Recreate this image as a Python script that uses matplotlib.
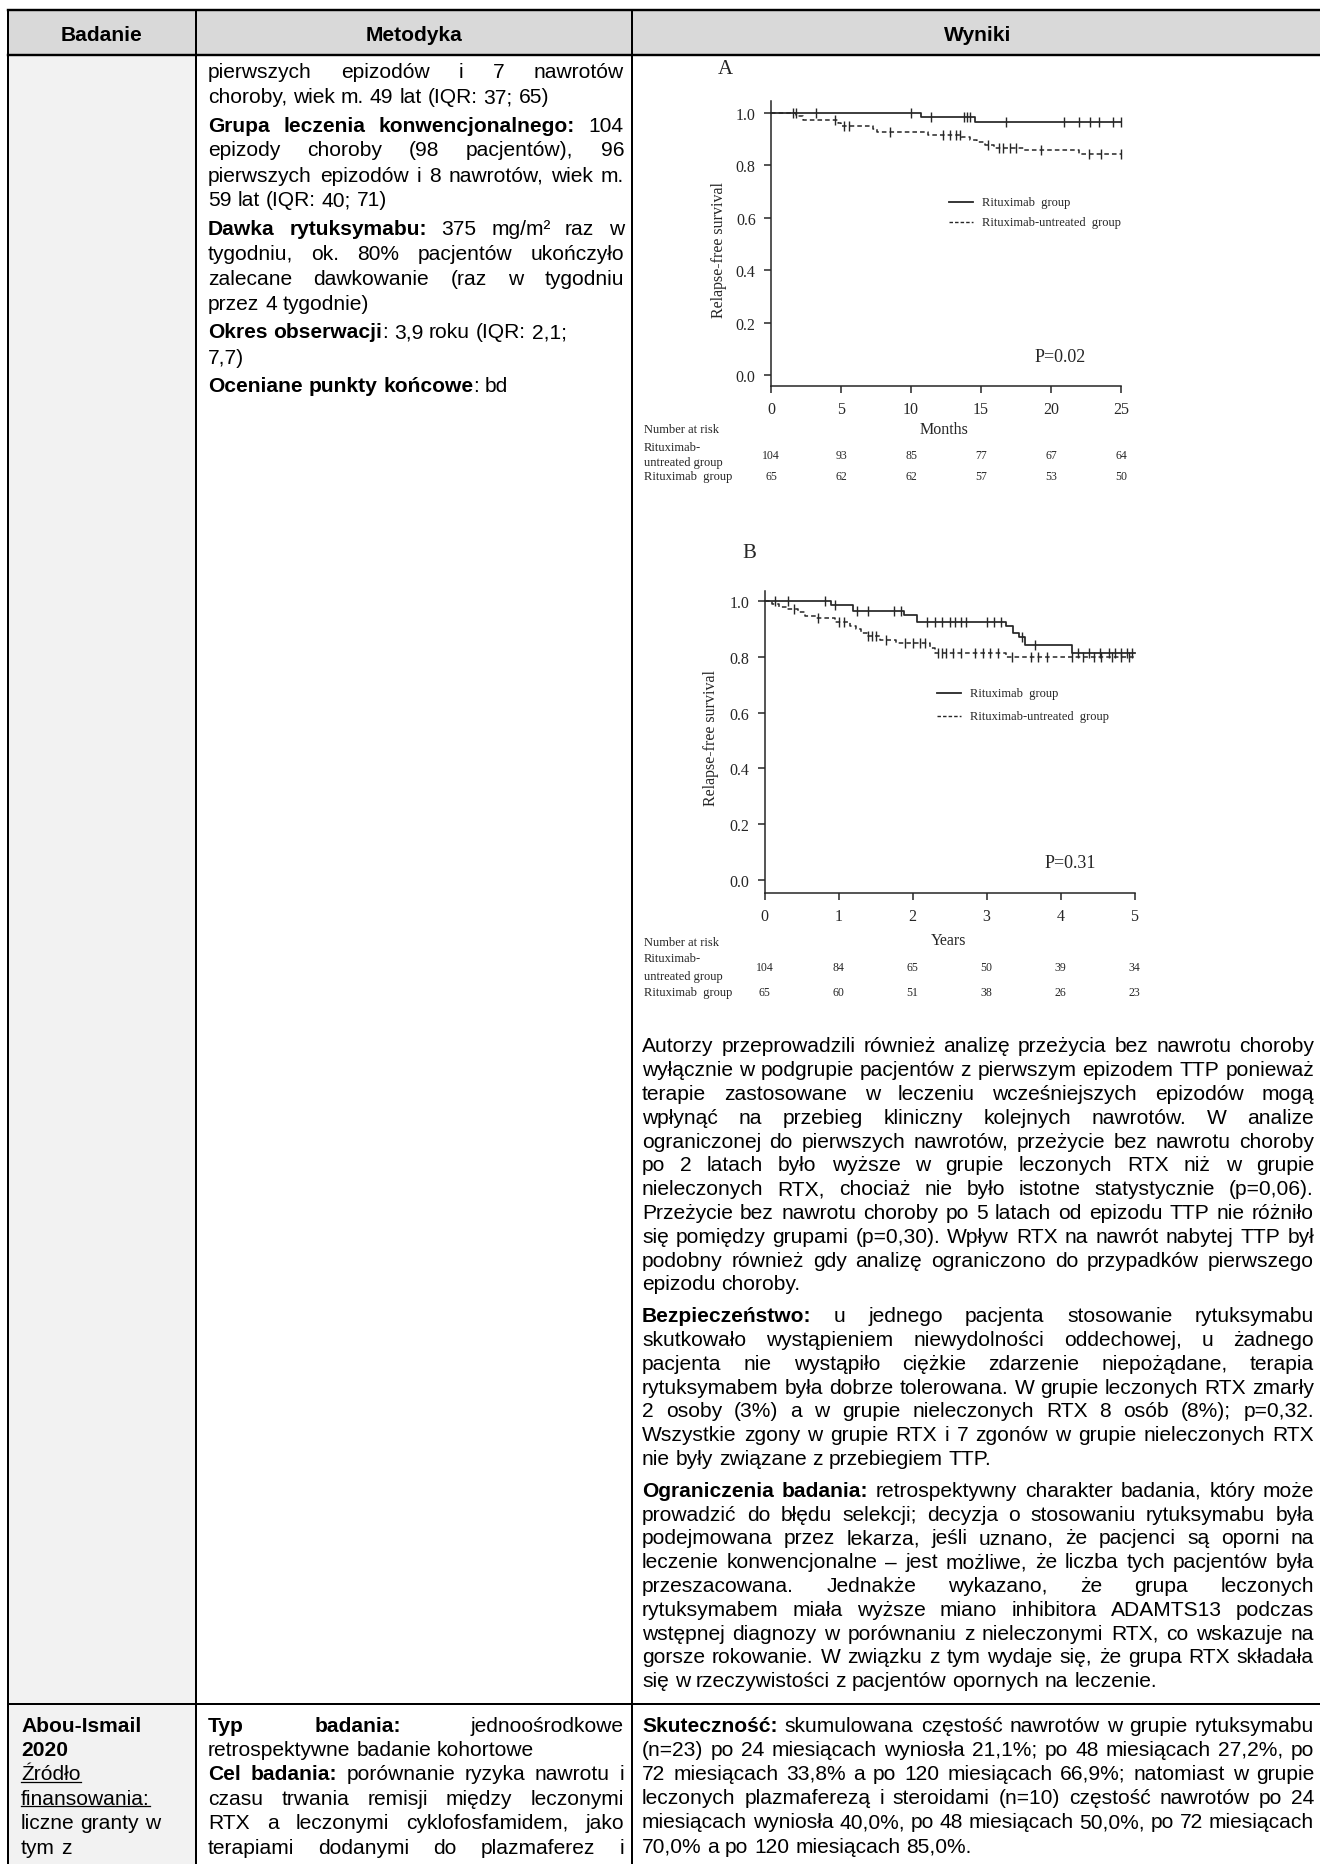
import numpy as np
import matplotlib.pyplot as plt
from matplotlib.font_manager import FontProperties
from matplotlib.transforms import blended_transform_factory

# ---------------- Kaplan-Meier A (months) ----------------
a_ticks = [0, 5, 10, 15, 20, 25]
a_rtx_t = [0, 10.7, 14.6]
a_rtx_s = [1.0, 0.983, 0.967]
a_rtx_cens = [1.6, 1.75, 3.2, 10.0, 11.4, 13.8, 14.0, 14.2, 16.8, 20.9, 22.0, 22.8, 23.4, 24.4, 25.0]
a_unt_t = [0, 1.8, 2.3, 4.8, 5.0, 7.3, 7.6, 11.2, 13.6, 14.2, 14.7, 15.3, 15.9, 18.1, 22.0]
a_unt_s = [1.0, 0.99, 0.975, 0.962, 0.95, 0.94, 0.928, 0.915, 0.908, 0.898, 0.888, 0.878, 0.868, 0.858, 0.843]
a_unt_cens = [4.6, 5.2, 5.6, 8.5, 12.3, 12.8, 13.2, 13.5, 15.5, 16.3, 16.6, 17.1, 17.5, 19.3, 22.7, 23.6, 25.0]
a_risk_unt = [104, 93, 85, 77, 67, 64]
a_risk_rtx = [65, 62, 62, 57, 53, 50]

# ---------------- Kaplan-Meier B (years) ----------------
b_ticks = [0, 1, 2, 3, 4, 5]
b_rtx_t = [0, 0.9, 1.19, 1.89, 2.06, 3.27, 3.36, 3.44, 3.52, 4.16]
b_rtx_s = [1.0, 0.987, 0.965, 0.949, 0.925, 0.91, 0.887, 0.871, 0.843, 0.814]
b_rtx_cens = [0.14, 0.32, 0.82, 0.95, 1.25, 1.4, 1.75, 1.84, 2.2, 2.3, 2.4, 2.5, 2.58, 2.66, 2.72,
              3.0, 3.1, 3.2, 3.48, 3.65, 4.24, 4.38, 4.54, 4.65, 4.73, 4.82, 4.9, 4.96]
b_unt_t = [0, 0.1, 0.2, 0.3, 0.45, 0.55, 0.7, 0.95, 1.15, 1.23, 1.3, 1.38, 1.56, 1.78, 2.24, 2.31, 3.27]
b_unt_s = [1.0, 0.99, 0.98, 0.97, 0.96, 0.948, 0.938, 0.925, 0.912, 0.898, 0.887, 0.875, 0.862, 0.849,
           0.831, 0.815, 0.799]
b_unt_cens = [0.4, 0.72, 1.0, 1.08, 1.4, 1.45, 1.5, 1.64, 1.9, 2.0, 2.1, 2.17, 2.35, 2.4, 2.45, 2.55, 2.65,
              2.85, 2.95, 3.05, 3.15, 3.35, 3.6, 3.7, 3.82, 4.16, 4.3, 4.45, 4.55, 4.7, 4.82, 4.93]
b_risk_unt = [104, 84, 65, 50, 39, 34]
b_risk_rtx = [65, 60, 51, 38, 26, 23]

# ---------------- table text ----------------
headers = ["Badanie", "Metodyka", "Wyniki"]

met_row1 = [
    (["pierwszych epizodów i 7 nawrotów",
      "choroby, wiek m. 49 lat (IQR: 37; 65)"], True, False),
    (["*Grupa leczenia konwencjonalnego:* 104",
      "epizody choroby (98 pacjentów), 96",
      "pierwszych epizodów i 8 nawrotów, wiek m.",
      "59 lat (IQR: 40; 71)"], True, False),
    (["*Dawka rytuksymabu:* 375 mg/m² raz w",
      "tygodniu, ok. 80% pacjentów ukończyło",
      "zalecane dawkowanie (raz w tygodniu",
      "przez 4 tygodnie)"], True, False),
    (["*Okres obserwacji*: 3,9 roku (IQR: 2,1;", "7,7)"], False, False),
    (["*Oceniane punkty końcowe*: bd"], False, False),
]

wyn_row1 = [
    (["Autorzy przeprowadzili również analizę przeżycia bez nawrotu choroby",
      "wyłącznie w podgrupie pacjentów z pierwszym epizodem TTP ponieważ",
      "terapie zastosowane w leczeniu wcześniejszych epizodów mogą",
      "wpłynąć na przebieg kliniczny kolejnych nawrotów. W analize",
      "ograniczonej do pierwszych nawrotów, przeżycie bez nawrotu choroby",
      "po 2 latach było wyższe w grupie leczonych RTX niż w grupie",
      "nieleczonych RTX, chociaż nie było istotne statystycznie (p=0,06).",
      "Przeżycie bez nawrotu choroby po 5 latach od epizodu TTP nie różniło",
      "się pomiędzy grupami (p=0,30). Wpływ RTX na nawrót nabytej TTP był",
      "podobny również gdy analizę ograniczono do przypadków pierwszego",
      "epizodu choroby."], True, False),
    (["*Bezpieczeństwo:* u jednego pacjenta stosowanie rytuksymabu",
      "skutkowało wystąpieniem niewydolności oddechowej, u żadnego",
      "pacjenta nie wystąpiło ciężkie zdarzenie niepożądane, terapia",
      "rytuksymabem była dobrze tolerowana. W grupie leczonych RTX zmarły",
      "2 osoby (3%) a w grupie nieleczonych RTX 8 osób (8%); p=0,32.",
      "Wszystkie zgony w grupie RTX i 7 zgonów w grupie nieleczonych RTX",
      "nie były związane z przebiegiem TTP."], True, False),
    (["*Ograniczenia badania:* retrospektywny charakter badania, który może",
      "prowadzić do błędu selekcji; decyzja o stosowaniu rytuksymabu była",
      "podejmowana przez lekarza, jeśli uznano, że pacjenci są oporni na",
      "leczenie konwencjonalne – jest możliwe, że liczba tych pacjentów była",
      "przeszacowana. Jednakże wykazano, że grupa leczonych",
      "rytuksymabem miała wyższe miano inhibitora ADAMTS13 podczas",
      "wstępnej diagnozy w porównaniu z nieleczonymi RTX, co wskazuje na",
      "gorsze rokowanie. W związku z tym wydaje się, że grupa RTX składała",
      "się w rzeczywistości z pacjentów opornych na leczenie."], True, False),
]

bad_row2 = [(["*Abou-Ismail*", "*2020*", "_Źródło_", "_finansowania:_", "liczne granty w", "tym z"], False, False)]

met_row2 = [
    (["*Typ badania:* jednoośrodkowe", "retrospektywne badanie kohortowe"], True, False),
    (["*Cel badania:* porównanie ryzyka nawrotu i",
      "czasu trwania remisji między leczonymi",
      "RTX a leczonymi cyklofosfamidem, jako",
      "terapiami dodanymi do plazmaferez i"], True, True),
]

wyn_row2 = [
    (["*Skuteczność:* skumulowana częstość nawrotów w grupie rytuksymabu",
      "(n=23) po 24 miesiącach wyniosła 21,1%; po 48 miesiącach 27,2%, po",
      "72 miesiącach 33,8% a po 120 miesiącach 66,9%; natomiast w grupie",
      "leczonych plazmaferezą i steroidami (n=10) częstość nawrotów po 24",
      "miesiącach wyniosła 40,0%, po 48 miesiącach 50,0%, po 72 miesiącach",
      "70,0% a po 120 miesiącach 85,0%."], True, False),
]

# ---------------- page setup ----------------
W, H = 1320, 1865
fig = plt.figure(figsize=(W / 100, H / 100), dpi=100)
page = fig.add_axes([0, 0, 1, 1])
page.set_xlim(0, W)
page.set_ylim(H, 0)
page.axis('off')
renderer = fig.canvas.get_renderer()

SANS = 'Liberation Sans'
SERIF = 'Liberation Serif'
FS = 15.1
KM_C = '#262626'

X_L, X_B, X_M, X_R = 8, 196, 632, 1326
Y_T, Y_HDR, Y_ROW2 = 11, 56, 1705


def fprop(bold):
    return FontProperties(family=SANS, size=FS, weight='bold' if bold else 'normal')


def twidth(s, bold):
    w, h, d = renderer.get_text_width_height_descent(s, fprop(bold), ismath=False)
    return w


def parse(line):
    runs, buf, bold, under = [], '', False, False
    for ch in line:
        if ch in '*_':
            if buf:
                runs.append((buf, bold, under))
            buf = ''
            if ch == '*':
                bold = not bold
            else:
                under = not under
        else:
            buf += ch
    if buf:
        runs.append((buf, bold, under))
    words = [[]]
    for text, b, u in runs:
        parts = text.split(' ')
        for i, p in enumerate(parts):
            if i > 0:
                words.append([])
            if p:
                words[-1].append((p, b, u))
    return [w for w in words if w]


SPACE = twidth('a a', False) - twidth('aa', False)


def draw_line(x0, x1, y, line, justify):
    words = parse(line)
    ws = [sum(twidth(p, b) for p, b, u in w) for w in words]
    gap = SPACE
    if justify and len(words) > 1:
        gap = max((x1 - x0 - sum(ws)) / (len(words) - 1), SPACE * 0.5)
    x = x0
    for w, wd in zip(words, ws):
        for p, b, u in w:
            pw = twidth(p, b)
            page.text(x, y, p, fontproperties=fprop(b), va='baseline', ha='left', color='black')
            if u:
                page.plot([x, x + pw], [y + 2.5, y + 2.5], color='black', lw=0.9)
            x += pw
        x += gap


def draw_paras(x0, x1, y, paras, step, pstep):
    for lines, just, just_last in paras:
        for i, ln in enumerate(lines):
            last = i == len(lines) - 1
            draw_line(x0, x1, y + 6.5, ln, just and (not last or just_last))
            y += step if not last else pstep
    return y


# ---------------- table frame ----------------
page.add_patch(plt.Rectangle((X_L, Y_T), X_R - X_L, Y_HDR - Y_T, facecolor='#d9d9d9', edgecolor='none'))
page.add_patch(plt.Rectangle((X_L, Y_HDR), X_B - X_L, H - Y_HDR, facecolor='#f2f2f2', edgecolor='none'))
lw_px = 2.0 * 0.72
page.plot([X_L, X_R], [Y_T, Y_T], color='black', lw=lw_px * 1.2)
page.plot([X_L, X_R], [Y_HDR, Y_HDR], color='black', lw=lw_px * 1.2)
page.plot([X_L, X_R], [Y_ROW2, Y_ROW2], color='black', lw=lw_px)
for xv in (X_L, X_B, X_M):
    page.plot([xv, xv], [Y_T, H + 5], color='black', lw=lw_px)

hdr_x = [(X_L + X_B) / 2, (X_B + X_M) / 2, 978]
for hx, lab in zip(hdr_x, headers):
    page.text(hx, (Y_T + Y_HDR) / 2, lab, fontproperties=fprop(True), ha='center', va='center_baseline')

# ---------------- table body text ----------------
draw_paras(208, 624, 71.5, met_row1, 25.0, 28.5)
draw_paras(642, 1314, 1046, wyn_row1, 23.8, 31.8)
draw_paras(21, 190, 1725, bad_row2, 24.4, 24.4)
draw_paras(208, 624, 1725, met_row2, 24.4, 24.4)
draw_paras(642, 1314, 1725, wyn_row2, 24.2, 24.2)


# ---------------- Kaplan-Meier panels ----------------
def levels_at(times, surv, cens):
    idx = np.searchsorted(times, cens, side='right') - 1
    return np.asarray(surv)[idx]


def km_panel(px, xmax, ticks, rtx_t, rtx_s, rtx_c, unt_t, unt_s, unt_c, y1, y0):
    left, right, top, bottom = px
    ax = fig.add_axes([left / W, 1 - bottom / H, (right - left) / W, (bottom - top) / H])
    ax.patch.set_alpha(0)
    unit = y0 - y1
    ax.set_xlim(0, xmax)
    ax.set_ylim(-(bottom - y0) / unit, 1 + (y1 - top) / unit)
    ax.step(rtx_t + [xmax], rtx_s + [rtx_s[-1]], where='post', color=KM_C, lw=1.25, clip_on=False)
    ax.step(unt_t + [xmax], unt_s + [unt_s[-1]], where='post', color=KM_C, lw=1.1,
            linestyle=(0, (3, 2)), clip_on=False)
    ax.plot(rtx_c, levels_at(rtx_t, rtx_s, rtx_c), ls='none', marker='|', ms=7, mew=1.0,
            color=KM_C, clip_on=False)
    ax.plot(unt_c, levels_at(unt_t, unt_s, unt_c), ls='none', marker='|', ms=7, mew=1.0,
            color=KM_C, clip_on=False)
    for s in ('top', 'right'):
        ax.spines[s].set_visible(False)
    for s in ('left', 'bottom'):
        ax.spines[s].set_color(KM_C)
        ax.spines[s].set_linewidth(1.1)
    ax.set_xticks(ticks)
    ax.set_xticklabels([str(t) for t in ticks])
    yt = [0.0, 0.2, 0.4, 0.6, 0.8, 1.0]
    ax.set_yticks(yt)
    ax.set_yticklabels(['%.1f' % v for v in yt])
    ax.tick_params(direction='out', length=5, width=1.1, colors=KM_C, labelsize=11.5, pad=6)
    for lbl in ax.get_xticklabels() + ax.get_yticklabels():
        lbl.set_fontfamily(SERIF)
    return ax


def km_text(ax, ticks, letter, lxy, ylab_xy, xlab, xlab_xy, leg_x, leg_y, pval, p_xy,
            risk_y, risk_unt, risk_rtx):
    page.text(lxy[0], lxy[1], letter, family=SERIF, fontsize=15, color=KM_C, ha='left', va='center')
    page.text(ylab_xy[0], ylab_xy[1], 'Relapse-free survival', family=SERIF, fontsize=11.5,
              color=KM_C, rotation=90, ha='center', va='center')
    page.text(xlab_xy[0], xlab_xy[1], xlab, family=SERIF, fontsize=11.5, color=KM_C,
              ha='center', va='center')
    page.plot([leg_x, leg_x + 24], [leg_y[0], leg_y[0]], color=KM_C, lw=1.3)
    page.plot([leg_x, leg_x + 24], [leg_y[1], leg_y[1]], color=KM_C, lw=1.0, linestyle=(0, (2.5, 1.5)))
    page.text(leg_x + 33, leg_y[0], 'Rituximab  group', family=SERIF, fontsize=9, color=KM_C,
              ha='left', va='center')
    page.text(leg_x + 33, leg_y[1], 'Rituximab-untreated  group', family=SERIF, fontsize=9,
              color=KM_C, ha='left', va='center')
    page.text(p_xy[0], p_xy[1], pval, family=SERIF, fontsize=13, color=KM_C, ha='left', va='center')
    ry_hdr, ry_a, ry_b, ry_unt, ry_rtx = risk_y
    page.text(644, ry_hdr, 'Number at risk', family=SERIF, fontsize=9, color=KM_C, va='center')
    page.text(644, ry_a, 'Rituximab-', family=SERIF, fontsize=9, color=KM_C, va='center')
    page.text(644, ry_b, 'untreated group', family=SERIF, fontsize=9, color=KM_C, va='center')
    page.text(644, ry_rtx, 'Rituximab  group', family=SERIF, fontsize=9, color=KM_C, va='center')
    tr = blended_transform_factory(ax.transData, page.transData)
    for t, n1, n2 in zip(ticks, risk_unt, risk_rtx):
        page.text(t, ry_unt, str(n1), transform=tr, family=SERIF, fontsize=8.5, color=KM_C,
                  ha='center', va='center')
        page.text(t, ry_rtx, str(n2), transform=tr, family=SERIF, fontsize=8.5, color=KM_C,
                  ha='center', va='center')


ax_a = km_panel((771, 1121, 102, 387), 25, a_ticks, a_rtx_t, a_rtx_s, a_rtx_cens,
                a_unt_t, a_unt_s, a_unt_cens, 114, 376)
km_text(ax_a, a_ticks, 'A', (718, 70), (719, 250), 'Months', (944, 430), 949, (203, 223),
        'P=0.02', (1035, 358), (430, 448, 463, 456, 477), a_risk_unt, a_risk_rtx)

ax_b = km_panel((764.5, 1134.5, 591.5, 894), 5, b_ticks, b_rtx_t, b_rtx_s, b_rtx_cens,
                b_unt_t, b_unt_s, b_unt_cens, 602, 881)
km_text(ax_b, b_ticks, 'B', (742, 553), (711, 738), 'Years', (949, 941), 937, (694, 717),
        'P=0.31', (1045, 864), (943, 959, 977, 968, 993), b_risk_unt, b_risk_rtx)

fig.savefig('out.png', dpi=100)
